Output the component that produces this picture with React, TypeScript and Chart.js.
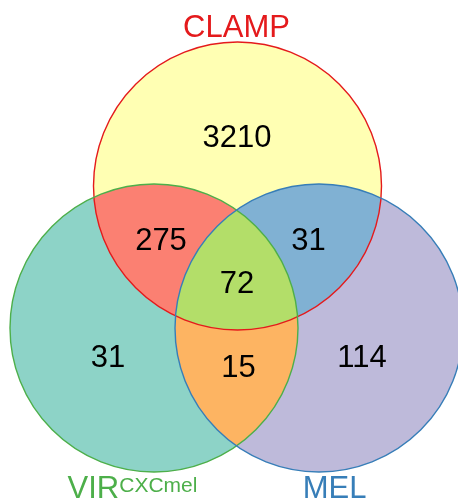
import React, { useEffect, useRef } from "react";
import { Chart, registerables } from "chart.js";

Chart.register(...registerables);

const W = 458;
const H = 503;

// Sets
const setNames = ["CLAMP", "VIR", "MEL"];
const setSuperscripts = ["", "CXCmel", ""];

// Region counts (membership: C=CLAMP, V=VIR, M=MEL)
const regionKeys = ["C", "CV", "CM", "CVM", "V", "VM", "M"];
const regionCounts = [3210, 275, 31, 72, 31, 15, 114];

// ---- layout / style (pixel space, data units == pixels) ----
const circleGeom = [
  { cx: 237.5, cy: 186, r: 144 },
  { cx: 154, cy: 328, r: 144 },
  { cx: 319, cy: 328, r: 144 },
];
const strokeColors = ["#E41A1C", "#4DAF4A", "#377EB8"];
const soloColors = ["#FFFFB3", "#8DD3C7", "#BEBADA"];
const pairColors: Record<string, string> = {
  "0-1": "#FB8072",
  "0-2": "#80B1D3",
  "1-2": "#FDB462",
};
const tripleColor = "#B3DE69";
const regionPos: Record<string, [number, number]> = {
  C: [237, 136],
  CV: [161, 238.5],
  CM: [308.5, 238.5],
  CVM: [237, 281.5],
  V: [108, 355.5],
  VM: [238.5, 366],
  M: [362, 355.5],
};
const labelPos = [
  { x: 236.5, y: 37, align: "center" },
  { x: 132.5, y: 498, align: "group" },
  { x: 334.5, y: 498, align: "center" },
];
const FONT = '"Liberation Sans", Arial, Helvetica, sans-serif';

const vennPlugin = {
  id: "venn",
  beforeDatasetsDraw(chart: any) {
    const ctx = chart.ctx as CanvasRenderingContext2D;
    const xs = chart.scales.x;
    const ys = chart.scales.y;
    const circ = circleGeom.map((c) => ({
      x: xs.getPixelForValue(c.cx),
      y: ys.getPixelForValue(c.cy),
      r: Math.abs(xs.getPixelForValue(c.cx + c.r) - xs.getPixelForValue(c.cx)),
    }));
    const path = (i: number) => {
      ctx.beginPath();
      ctx.arc(circ[i].x, circ[i].y, circ[i].r, 0, Math.PI * 2);
    };
    ctx.save();
    // solo fills
    for (let i = 0; i < 3; i++) {
      path(i);
      ctx.fillStyle = soloColors[i];
      ctx.fill();
    }
    // pair fills
    const pairs: [number, number][] = [
      [0, 1],
      [0, 2],
      [1, 2],
    ];
    for (const [a, b] of pairs) {
      ctx.save();
      path(a);
      ctx.clip();
      path(b);
      ctx.fillStyle = pairColors[`${a}-${b}`];
      ctx.fill();
      ctx.restore();
    }
    // triple fill
    ctx.save();
    path(0);
    ctx.clip();
    path(1);
    ctx.clip();
    path(2);
    ctx.fillStyle = tripleColor;
    ctx.fill();
    ctx.restore();
    // strokes
    ctx.lineWidth = 1.4;
    for (let i = 0; i < 3; i++) {
      path(i);
      ctx.strokeStyle = strokeColors[i];
      ctx.stroke();
    }
    // set labels
    ctx.textBaseline = "alphabetic";
    for (let i = 0; i < 3; i++) {
      const lp = labelPos[i];
      const px = xs.getPixelForValue(lp.x);
      const py = ys.getPixelForValue(lp.y);
      ctx.fillStyle = strokeColors[i];
      if (setSuperscripts[i]) {
        ctx.font = `31px ${FONT}`;
        const w1 = ctx.measureText(setNames[i]).width;
        ctx.font = `21px ${FONT}`;
        const w2 = ctx.measureText(setSuperscripts[i]).width;
        const start = px - (w1 + w2) / 2;
        ctx.textAlign = "left";
        ctx.font = `31px ${FONT}`;
        ctx.fillText(setNames[i], start, py);
        ctx.font = `21px ${FONT}`;
        ctx.fillText(setSuperscripts[i], start + w1, py - 6);
      } else {
        ctx.font = `31px ${FONT}`;
        ctx.textAlign = "center";
        ctx.fillText(setNames[i], px, py);
      }
    }
    ctx.restore();
  },
  afterDatasetsDraw(chart: any) {
    const ctx = chart.ctx as CanvasRenderingContext2D;
    const meta = chart.getDatasetMeta(0);
    ctx.save();
    ctx.fillStyle = "#000000";
    ctx.font = `31px ${FONT}`;
    ctx.textAlign = "center";
    ctx.textBaseline = "alphabetic";
    meta.data.forEach((pt: any, i: number) => {
      ctx.fillText(String(regionCounts[i]), pt.x, pt.y + 11);
    });
    ctx.restore();
  },
};

export default function App() {
  const ref = useRef<HTMLCanvasElement>(null);
  useEffect(() => {
    if (!ref.current) return;
    const chart = new Chart(ref.current, {
      type: "scatter",
      data: {
        datasets: [
          {
            label: "regions",
            data: regionKeys.map((k) => ({ x: regionPos[k][0], y: regionPos[k][1] })),
            pointRadius: 0,
            pointHoverRadius: 0,
          },
        ],
      },
      options: {
        animation: false,
        responsive: false,
        maintainAspectRatio: false,
        devicePixelRatio: 1,
        layout: { padding: 0 },
        plugins: { legend: { display: false }, tooltip: { enabled: false } },
        events: [],
        scales: {
          x: { type: "linear", min: 0, max: W, display: false },
          y: { type: "linear", min: 0, max: H, reverse: true, display: false },
        },
      },
      plugins: [vennPlugin],
    });
    return () => chart.destroy();
  }, []);
  return (
    <div style={{ position: "fixed", left: 0, top: 0, width: W, height: H, background: "#fff" }}>
      <canvas ref={ref} width={W} height={H} style={{ width: W, height: H, display: "block" }} />
    </div>
  );
}
